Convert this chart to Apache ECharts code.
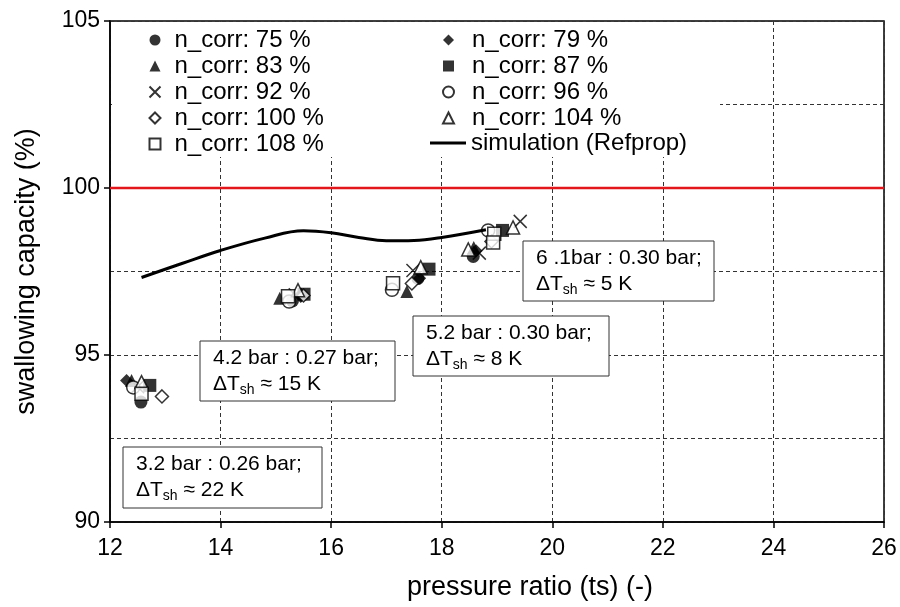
<!DOCTYPE html>
<html>
<head>
<meta charset="utf-8">
<script src="https://cdn.jsdelivr.net/npm/echarts@6/dist/echarts.min.js"></script>
<style>
  html, body { margin: 0; padding: 0; background: #fff; }
  #chart { width: 900px; height: 607px; }
</style>
</head>
<body>
<div id="chart"></div>
<script>
// measured points, [pressure ratio, swallowing capacity]
const n75 = [[12.56, 93.59], [15.3, 96.62], [17.57, 97.29], [18.57, 97.95]];
const n79 = [[12.30, 94.24], [15.45, 96.75], [17.6, 97.3], [18.62, 98.12]];
const n83 = [[12.39, 94.24], [15.07, 96.7], [17.37, 96.9], [18.58, 98.22]];
const n87 = [[12.72, 94.09], [15.51, 96.82], [17.77, 97.57], [19.1, 98.73]];
const n92 = [[12.5, 94.05], [15.35, 96.8], [17.48, 97.53], [18.68, 98.05], [19.42, 99.0]];
const n96 = [[12.42, 94.03], [15.24, 96.6], [17.1, 96.95], [18.84, 98.73]];
const n100 = [[12.94, 93.76], [15.5, 96.78], [17.46, 97.14], [18.9, 98.4]];
const n104 = [[12.57, 94.19], [15.4, 96.94], [17.62, 97.63], [18.48, 98.16], [19.29, 98.82]];
const n108 = [[12.57, 93.84], [15.22, 96.76], [17.12, 97.15], [18.95, 98.63], [18.93, 98.37]];
const simulation = [[12.57, 97.32], [13.3, 97.74], [14.0, 98.13], [14.8, 98.5], [15.5, 98.72],
  [16.0, 98.66], [16.5, 98.52], [17.0, 98.42], [17.5, 98.43], [18.0, 98.52], [18.8, 98.75]];
const limit = [[12, 100], [26, 100]];

const leftNames = ['n_corr: 75 %', 'n_corr: 83 %', 'n_corr: 92 %', 'n_corr: 100 %', 'n_corr: 108 %'];
const rightNames = ['n_corr: 79 %', 'n_corr: 87 %', 'n_corr: 96 %', 'n_corr: 104 %'];

const notes = [
  {x: 123, y: 447, w: 199, h: 61, top: '3.2 bar : 0.26 bar;', dt: ' ≈ 22 K'},
  {x: 200, y: 341, w: 195, h: 60, top: '4.2 bar : 0.27 bar;', dt: ' ≈ 15 K'},
  {x: 413, y: 316, w: 196, h: 60, top: '5.2 bar : 0.30 bar;', dt: ' ≈ 8 K'},
  {x: 523, y: 241, w: 191, h: 60, top: '6 .1bar : 0.30 bar;', dt: ' ≈ 5 K'}
];

const FONT = '"Liberation Sans", Arial, sans-serif';
const cross = 'path://M0,0L10,10M10,0L0,10';
const filled = {color: '#000'};
const open = {color: '#fff', borderColor: '#000', borderWidth: 1.5};

function pts(name, data, symbol, style, size) {
  return {
    name: name, type: 'scatter', data: data, symbol: symbol,
    symbolSize: size || 13, itemStyle: style
  };
}

let chart = echarts.init(document.getElementById('chart'));

// white legend panel hides the grid lines behind it
let graphics = [{
  type: 'rect', z: 1, shape: {x: 112, y: 22, width: 608, height: 135},
  style: {fill: '#fff'}
}];
notes.forEach(function (n) {
  graphics.push({
    type: 'rect', z: 5, shape: {x: n.x, y: n.y, width: n.w, height: n.h},
    style: {fill: '#fff', stroke: '#333', lineWidth: 1}
  });
  graphics.push({
    type: 'text', z: 6, x: n.x + 13, y: n.y + n.h / 2,
    style: {
      text: '{d|' + n.top + '}\n{d|ΔT}{s|sh}{d|' + n.dt + '}',
      verticalAlign: 'middle', fill: '#000',
      rich: {
        d: {fontSize: 21, lineHeight: 26, fontFamily: FONT, fill: '#000'},
        s: {fontSize: 14, lineHeight: 16, verticalAlign: 'bottom', fontFamily: FONT, fill: '#000'}
      }
    }
  });
});

const legendBase = {
  orient: 'vertical', top: 28, padding: 0, itemWidth: 11, itemHeight: 11, itemGap: 2,
  textStyle: {fontSize: 24, lineHeight: 24, fontFamily: FONT, color: '#000'}
};

const option = {
  animation: false,
  backgroundColor: '#fff',
  grid: {left: 110, right: 16, top: 21, bottom: 85, show: true, borderColor: '#000', borderWidth: 1.5},
  legend: [
    Object.assign({}, legendBase, {
      left: 147, data: leftNames,
      textStyle: Object.assign({}, legendBase.textStyle, {padding: [0, 0, 0, 9]})
    }),
    Object.assign({}, legendBase, {
      left: 442, data: rightNames,
      textStyle: Object.assign({}, legendBase.textStyle, {padding: [0, 0, 0, 13]})
    }),
    Object.assign({}, legendBase, {
      left: 430, top: 131, itemWidth: 36, itemHeight: 3,
      data: [{name: 'simulation (Refprop)', icon: 'rect'}]
    })
  ],
  xAxis: {
    type: 'value', min: 12, max: 26, interval: 2,
    name: 'pressure ratio (ts) (-)', nameLocation: 'middle', nameGap: 52,
    nameTextStyle: {fontSize: 27, fontFamily: FONT, color: '#000', padding: [0, 0, 0, 66]},
    axisLine: {lineStyle: {color: '#000', width: 1.5}},
    axisTick: {length: 6, lineStyle: {color: '#000', width: 1.5}},
    axisLabel: {fontSize: 23, fontFamily: FONT, color: '#000', margin: 15},
    splitLine: {lineStyle: {color: '#333', type: [4, 3], width: 1}}
  },
  yAxis: {
    type: 'value', min: 90, max: 105, interval: 5,
    name: 'swallowing capacity (%)', nameLocation: 'middle', nameGap: 70,
    nameTextStyle: {fontSize: 27, fontFamily: FONT, color: '#000'},
    axisLine: {lineStyle: {color: '#000', width: 1.5}},
    axisTick: {length: 6, lineStyle: {color: '#000', width: 1.5}},
    axisLabel: {fontSize: 23, fontFamily: FONT, color: '#000', margin: 10},
    splitLine: {lineStyle: {color: '#333', type: [4, 3], width: 1}},
    minorTick: {show: false, splitNumber: 2},
    minorSplitLine: {show: true, lineStyle: {color: '#333', type: [4, 3], width: 1}}
  },
  graphic: graphics,
  series: [
    {
      name: 'limit', type: 'line', data: limit, symbol: 'none',
      lineStyle: {color: '#e3171b', width: 2.5}, silent: true
    },
    {
      name: 'simulation (Refprop)', type: 'line', data: simulation, symbol: 'none',
      smooth: 0.4, color: '#000', lineStyle: {color: '#000', width: 3}
    },
    pts('n_corr: 75 %', n75, 'circle', filled),
    pts('n_corr: 79 %', n79, 'diamond', filled),
    pts('n_corr: 83 %', n83, 'triangle', filled),
    pts('n_corr: 87 %', n87, 'rect', filled),
    pts('n_corr: 92 %', n92, cross, {color: 'none', borderColor: '#000', borderWidth: 1.5}),
    pts('n_corr: 96 %', n96, 'circle', open),
    pts('n_corr: 100 %', n100, 'diamond', open),
    pts('n_corr: 104 %', n104, 'triangle', open),
    pts('n_corr: 108 %', n108, 'rect', open)
  ]
};
chart.setOption(option);
window.addEventListener('resize', function () {
  chart.resize();
});
</script>
</body>
</html>
